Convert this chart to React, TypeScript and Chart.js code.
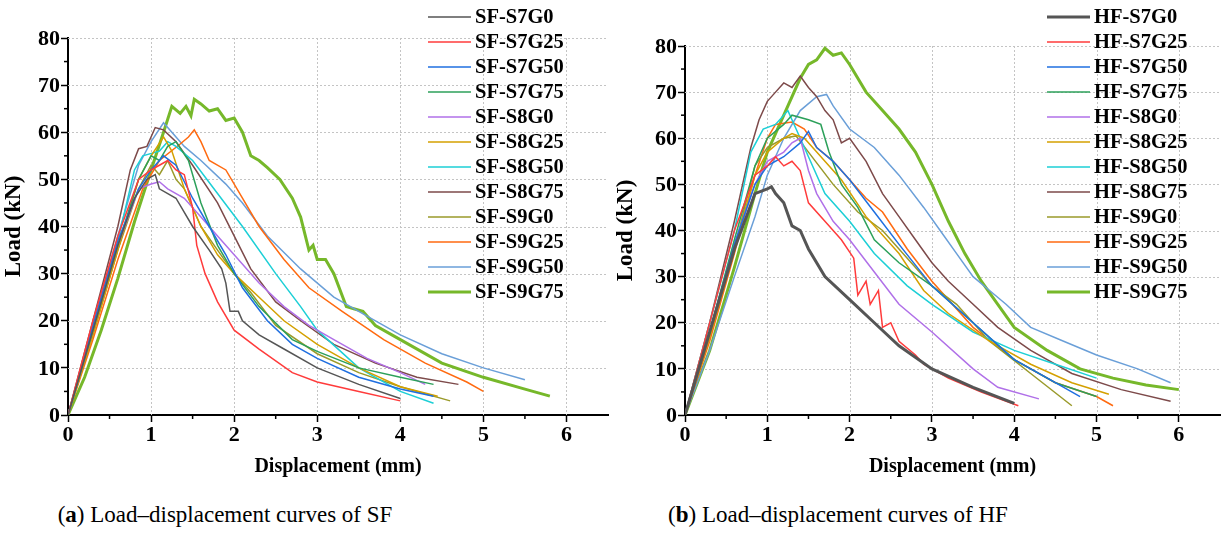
import { useEffect, useRef } from 'react';
import Chart from 'chart.js/auto';

type Pt = [number, number];

// ---- SF panel ----
const sfS7G0: Pt[] = [[0,0],[0.3,18],[0.6,36],[0.8,46],[0.95,50],[1.05,51],[1.1,48],[1.3,46],[1.5,40],[1.7,35],[1.85,31],[1.9,28],[1.95,22],[2.05,22],[2.1,20],[2.3,17],[2.6,14],[3.0,10],[3.5,6.5],[4.0,3.5]];
const sfS7G25: Pt[] = [[0,0],[0.3,20],[0.6,38],[0.85,50],[1.0,52],[1.1,53],[1.2,54],[1.3,52],[1.4,51],[1.5,44],[1.55,36],[1.65,30],[1.8,24],[2.0,18],[2.3,14],[2.7,9],[3.0,7],[3.5,5],[4.0,3]];
const sfS7G50: Pt[] = [[0,0],[0.3,19],[0.6,37],[0.85,48],[1.0,52],[1.15,55],[1.3,53],[1.5,46],[1.7,40],[1.9,34],[2.1,27],[2.4,20],[2.7,15],[3.0,12],[3.5,8],[4.0,5.5],[4.4,4]];
const sfS7G75: Pt[] = [[0,0],[0.3,18],[0.6,36],[0.85,50],[1.0,55],[1.1,54],[1.2,57],[1.3,58],[1.45,54],[1.6,45],[1.8,36],[2.0,30],[2.3,23],[2.7,16],[3.0,13.5],[3.5,10],[4.0,8],[4.4,6.5]];
const sfS8G0: Pt[] = [[0,0],[0.3,18],[0.6,36],[0.85,48],[1.0,49],[1.1,49.5],[1.2,48],[1.4,46],[1.6,42],[1.8,38],[2.0,34],[2.3,28],[2.6,23],[2.9,19],[3.2,16],[3.6,12],[4.0,9],[4.3,6.5]];
const sfS8G25: Pt[] = [[0,0],[0.3,17],[0.6,35],[0.85,50],[1.0,55],[1.15,59],[1.25,56],[1.4,48],[1.6,40],[1.8,34],[2.0,30],[2.3,25],[2.6,20],[3.0,15],[3.5,10],[4.0,6],[4.45,4]];
const sfS8G50: Pt[] = [[0,0],[0.3,18],[0.6,37],[0.8,52],[0.9,55],[1.1,56],[1.2,58],[1.3,57],[1.5,54],[1.8,47],[2.1,40],[2.5,30],[2.8,23],[3.0,18],[3.5,10],[4.0,5],[4.4,2.5]];
const sfS8G75: Pt[] = [[0,0],[0.3,20],[0.6,40],[0.75,52],[0.85,56.5],[0.95,57],[1.05,61],[1.15,60.5],[1.3,58],[1.5,53],[1.8,45],[2.0,38],[2.2,31],[2.5,24],[2.8,20],[3.2,15],[3.7,11],[4.2,8],[4.7,6.5]];
const sfS9G0: Pt[] = [[0,0],[0.3,17],[0.6,35],[0.85,48],[1.0,53],[1.1,51],[1.2,54],[1.3,50],[1.4,48],[1.6,40],[1.8,35],[2.0,30],[2.2,26],[2.5,19],[3.0,13],[3.5,9],[4.0,6],[4.6,3]];
const sfS9G25: Pt[] = [[0,0],[0.3,16],[0.6,33],[0.9,48],[1.1,54],[1.35,57.5],[1.45,59],[1.52,60.5],[1.6,58],[1.7,54],[1.9,52],[2.1,46],[2.3,40],[2.6,33],[2.9,27],[3.3,22],[3.8,16],[4.3,11],[4.8,7],[5.0,5]];
const sfS9G50: Pt[] = [[0,0],[0.3,19],[0.6,38],[0.85,53],[1.0,58],[1.15,62],[1.3,59],[1.4,57],[1.6,54],[1.9,49],[2.1,45],[2.4,38],[2.8,31],[3.2,25],[3.6,21],[4.0,17],[4.5,13],[5.0,10],[5.5,7.5]];
const sfS9G75: Pt[] = [[0,0],[0.2,8],[0.4,18],[0.6,29],[0.8,41],[1.0,52],[1.15,60],[1.25,65.5],[1.35,64],[1.42,65.5],[1.48,63.5],[1.52,67],[1.6,66],[1.7,64.5],[1.8,65],[1.9,62.5],[2.0,63],[2.1,60],[2.2,55],[2.3,54],[2.4,52.5],[2.55,50],[2.7,46],[2.8,42],[2.9,35],[2.95,36],[3.0,33],[3.1,33],[3.2,30],[3.35,23],[3.45,22.5],[3.55,22],[3.7,19],[4.0,16],[4.5,11],[5.0,8],[5.5,5.5],[5.8,4]];

// ---- HF panel ----
const hfS7G0: Pt[] = [[0,0],[0.3,18],[0.6,36],[0.85,48],[1.0,49],[1.05,49.5],[1.1,48],[1.2,46],[1.3,41],[1.4,40],[1.5,36],[1.7,30],[2.0,25],[2.3,20],[2.6,15],[3.0,10],[3.5,6],[4.0,2.5]];
const hfS7G25: Pt[] = [[0,0],[0.3,20],[0.6,40],[0.85,52],[1.0,54],[1.1,56],[1.2,54],[1.3,55],[1.4,53],[1.5,46],[1.7,42],[1.9,38],[2.05,34],[2.1,26],[2.2,29],[2.25,24],[2.35,27],[2.4,19],[2.5,20],[2.6,16],[2.8,13],[2.9,11],[3.2,8],[3.6,5],[4.05,2]];
const hfS7G50: Pt[] = [[0,0],[0.3,18],[0.6,37],[0.85,50],[1.0,54],[1.2,56],[1.4,59],[1.5,61.5],[1.6,58],[1.8,55],[2.0,51],[2.3,44],[2.6,37],[3.0,28],[3.5,20],[4.0,12],[4.5,7],[4.8,4]];
const hfS7G75: Pt[] = [[0,0],[0.3,18],[0.6,38],[0.85,54],[1.0,60],[1.2,63],[1.3,65],[1.5,64],[1.65,63],[1.75,57],[1.9,50],[2.1,45],[2.3,38],[2.6,33],[3.0,28],[3.5,20],[4.0,12],[4.5,7],[5.0,4]];
const hfS8G0: Pt[] = [[0,0],[0.3,18],[0.6,37],[0.85,50],[1.0,55],[1.2,57],[1.3,59],[1.4,60],[1.5,53],[1.6,48],[1.8,42],[2.0,38],[2.3,31],[2.6,24],[3.0,18],[3.5,10],[3.8,6],[4.3,3.5]];
const hfS8G25: Pt[] = [[0,0],[0.3,17],[0.6,36],[0.85,52],[1.0,57],[1.2,60],[1.3,61],[1.45,60],[1.6,57],[1.9,51],[2.2,43],[2.6,35],[2.9,27],[3.2,22],[3.7,16],[4.2,11],[4.7,7],[5.15,4.5]];
const hfS8G50: Pt[] = [[0,0],[0.3,20],[0.6,40],[0.8,57],[0.95,62],[1.1,63],[1.25,66],[1.35,62],[1.5,56],[1.7,48],[2.0,42],[2.3,35],[2.7,28],[3.0,24],[3.5,18],[4.0,14],[4.5,11],[5.0,8]];
const hfS8G75: Pt[] = [[0,0],[0.3,20],[0.6,42],[0.8,58],[0.9,64],[1.0,68],[1.1,70],[1.2,72],[1.3,71],[1.4,73.5],[1.5,71],[1.6,69],[1.7,66],[1.8,64],[1.9,59],[2.0,60],[2.2,55],[2.4,48],[2.6,43],[2.8,38],[3.0,33],[3.2,29],[3.5,24],[3.8,19],[4.2,14],[4.7,9],[5.3,5.5],[5.9,3]];
const hfS9G0: Pt[] = [[0,0],[0.3,17],[0.6,36],[0.85,54],[1.0,58],[1.2,60],[1.35,60.5],[1.5,57],[1.8,50],[2.1,44],[2.4,40],[2.7,34],[3.0,28],[3.3,24],[3.7,16],[4.2,9],[4.7,2]];
const hfS9G25: Pt[] = [[0,0],[0.3,16],[0.6,35],[0.85,52],[1.0,60],[1.1,63],[1.3,63.5],[1.45,62],[1.6,58],[1.8,55],[2.0,51],[2.2,47],[2.4,44],[2.7,36],[3.0,29],[3.5,19],[4.0,12],[4.5,7],[5.0,4],[5.2,2]];
const hfS9G50: Pt[] = [[0,0],[0.3,14],[0.6,30],[0.85,43],[1.0,52],[1.2,60],[1.4,66],[1.6,69],[1.72,69.5],[1.8,67],[2.0,62],[2.3,58],[2.6,52],[2.9,45],[3.1,40],[3.3,35],[3.5,30],[3.7,27],[3.9,24],[4.2,19],[4.6,16],[5.0,13],[5.5,10],[5.9,7]];
const hfS9G75: Pt[] = [[0,0],[0.3,14],[0.6,32],[0.85,48],[1.0,57],[1.2,65],[1.4,73],[1.5,76],[1.6,77],[1.7,79.5],[1.8,78],[1.9,78.5],[2.0,76],[2.2,70],[2.4,66],[2.6,62],[2.8,57],[3.0,50],[3.2,42],[3.4,35],[3.6,29],[3.8,24],[4.0,19],[4.4,14],[4.8,10],[5.2,8],[5.6,6.5],[6.0,5.5]];

const specimens = ['S7G0', 'S7G25', 'S7G50', 'S7G75', 'S8G0', 'S8G25', 'S8G50', 'S8G75', 'S9G0', 'S9G25', 'S9G50', 'S9G75'];
const colors = ['#555555', '#ff3b3b', '#1f6fe0', '#2ca05a', '#b070e8', '#d4a000', '#1ccfd6', '#7d4a4a', '#9a9a2a', '#ff6a10', '#6a9fd8', '#76b82a'];
const sfSeries = [sfS7G0, sfS7G25, sfS7G50, sfS7G75, sfS8G0, sfS8G25, sfS8G50, sfS8G75, sfS9G0, sfS9G25, sfS9G50, sfS9G75];
const hfSeries = [hfS7G0, hfS7G25, hfS7G50, hfS7G75, hfS8G0, hfS8G25, hfS8G50, hfS8G75, hfS9G0, hfS9G25, hfS9G50, hfS9G75];
const sfWidths = [1.5, 1.5, 1.5, 1.5, 1.5, 1.5, 1.5, 1.5, 1.5, 1.5, 1.5, 3];
const hfWidths = [3, 1.5, 1.5, 1.5, 1.5, 1.5, 1.5, 1.5, 1.5, 1.5, 1.5, 3];
const xTicks = [0, 1, 2, 3, 4, 5, 6];
const yTicks = [0, 10, 20, 30, 40, 50, 60, 70, 80];

const FONT = 'Liberation Serif';

interface PanelProps {
  prefix: string;
  series: Pt[][];
  widths: number[];
  yAxisWidth: number;
  top: number;
  legendX: number;
}

function Panel({ prefix, series, widths, yAxisWidth, top, legendX }: PanelProps) {
  const ref = useRef<HTMLCanvasElement>(null);

  useEffect(() => {
    if (!ref.current) return;

    // dotted grid drawn under the curves
    const gridPlugin = {
      id: 'dotGrid',
      beforeDatasetsDraw(chart: Chart) {
        const { ctx, chartArea } = chart;
        const xs = chart.scales.x;
        const ys = chart.scales.y;
        ctx.save();
        ctx.strokeStyle = '#c4c4c4';
        ctx.lineWidth = 1;
        ctx.setLineDash([2, 2]);
        xTicks.slice(1).forEach((v) => {
          const px = Math.round(xs.getPixelForValue(v)) + 0.5;
          ctx.beginPath();
          ctx.moveTo(px, chartArea.top);
          ctx.lineTo(px, chartArea.bottom);
          ctx.stroke();
        });
        yTicks.slice(1).forEach((v) => {
          const py = Math.round(ys.getPixelForValue(v)) + 0.5;
          ctx.beginPath();
          ctx.moveTo(chartArea.left, py);
          ctx.lineTo(chartArea.right, py);
          ctx.stroke();
        });
        ctx.restore();
      },
    };

    // legend, tick labels and minor ticks
    const labelPlugin = {
      id: 'labels',
      afterDraw(chart: Chart) {
        const ctx = chart.ctx;
        const xs = chart.scales.x;
        const ys = chart.scales.y;
        ctx.save();
        ctx.font = `bold 20.5px "${FONT}"`;
        ctx.textBaseline = 'middle';
        ctx.textAlign = 'left';
        specimens.forEach((s, i) => {
          const y = 17 + i * 25;
          ctx.strokeStyle = colors[i];
          ctx.lineWidth = widths[i];
          ctx.beginPath();
          ctx.moveTo(legendX, y);
          ctx.lineTo(legendX + 43, y);
          ctx.stroke();
          ctx.fillStyle = '#000';
          ctx.fillText(`${prefix}-${s}`, legendX + 47, y + 1);
        });

        ctx.font = `bold 22px "${FONT}"`;
        ctx.fillStyle = '#000';
        ctx.textAlign = 'center';
        xTicks.forEach((v) => ctx.fillText(String(v), xs.getPixelForValue(v), ys.bottom + 20));
        ctx.textAlign = 'right';
        yTicks.forEach((v) => ctx.fillText(String(v), xs.left - 8, ys.getPixelForValue(v) + 1));

        ctx.strokeStyle = '#000';
        ctx.lineWidth = 1.5;
        for (let v = 0.5; v < 6.5; v += 1) {
          const px = xs.getPixelForValue(v);
          ctx.beginPath();
          ctx.moveTo(px, ys.bottom);
          ctx.lineTo(px, ys.bottom + 4);
          ctx.stroke();
        }
        for (let v = 5; v < 80; v += 10) {
          const py = ys.getPixelForValue(v);
          ctx.beginPath();
          ctx.moveTo(xs.left, py);
          ctx.lineTo(xs.left - 4, py);
          ctx.stroke();
        }
        ctx.restore();
      },
    };

    const chart = new Chart(ref.current, {
      type: 'scatter',
      data: {
        datasets: series.map((pts, i) => ({
          label: `${prefix}-${specimens[i]}`,
          data: pts.map(([x, y]) => ({ x, y })),
          showLine: true,
          borderColor: colors[i],
          backgroundColor: colors[i],
          borderWidth: widths[i],
          pointRadius: 0,
          tension: 0,
        })),
      },
      options: {
        animation: false,
        responsive: false,
        layout: { padding: { top, right: 4, left: 0, bottom: 0 } },
        plugins: { legend: { display: false }, tooltip: { enabled: false } },
        scales: {
          x: {
            type: 'linear',
            min: 0,
            max: 6.5,
            afterBuildTicks: (s: any) => {
              s.ticks = xTicks.map((v) => ({ value: v }));
            },
            afterFit: (s: any) => { s.height = 75; },
            grid: { drawOnChartArea: false, tickLength: 7, tickWidth: 1.5, tickColor: '#000' },
            border: { color: '#000', width: 2 },
            ticks: { display: false },
            title: { display: true, text: 'Displacement (mm)', color: '#000', font: { family: FONT, size: 20, weight: 'bold' }, padding: { top: 0, bottom: 11 } },
          },
          y: {
            type: 'linear',
            min: 0,
            max: 80,
            afterBuildTicks: (s: any) => {
              s.ticks = yTicks.map((v) => ({ value: v }));
            },
            ticks: { display: false },
            afterFit: (s: any) => { s.width = yAxisWidth; },
            grid: { drawOnChartArea: false, tickLength: 7, tickWidth: 1.5, tickColor: '#000' },
            border: { color: '#000', width: 2 },
            title: { display: true, text: 'Load (kN)', color: '#000', font: { family: FONT, size: 23, weight: 'bold' }, padding: { top: 0, bottom: 0 } },
          },
        },
      },
      plugins: [gridPlugin, labelPlugin],
    } as any);

    return () => chart.destroy();
  }, [prefix, series, widths, yAxisWidth, top, legendX]);

  return <canvas ref={ref} width={612} height={490} style={{ width: 612, height: 490, display: 'block' }} />;
}

export default function App() {
  const captionStyle: React.CSSProperties = {
    position: 'absolute',
    top: 502,
    fontFamily: FONT,
    fontSize: 23,
    color: '#000',
    whiteSpace: 'nowrap',
    transform: 'translateX(-50%)',
  };
  return (
    <div style={{ position: 'fixed', left: 0, top: 0, width: 1224, height: 541, background: '#fff', overflow: 'hidden' }}>
      <div style={{ position: 'absolute', left: 0, top: 0 }}>
        <Panel prefix="SF" series={sfSeries} widths={sfWidths} yAxisWidth={68} top={38} legendX={428} />
      </div>
      <div style={{ position: 'absolute', left: 612, top: 0 }}>
        <Panel prefix="HF" series={hfSeries} widths={hfWidths} yAxisWidth={73} top={46} legendX={435} />
      </div>
      <div style={{ ...captionStyle, left: 225 }}>(<b>a</b>) Load–displacement curves of SF</div>
      <div style={{ ...captionStyle, left: 838 }}>(<b>b</b>) Load–displacement curves of HF</div>
    </div>
  );
}
